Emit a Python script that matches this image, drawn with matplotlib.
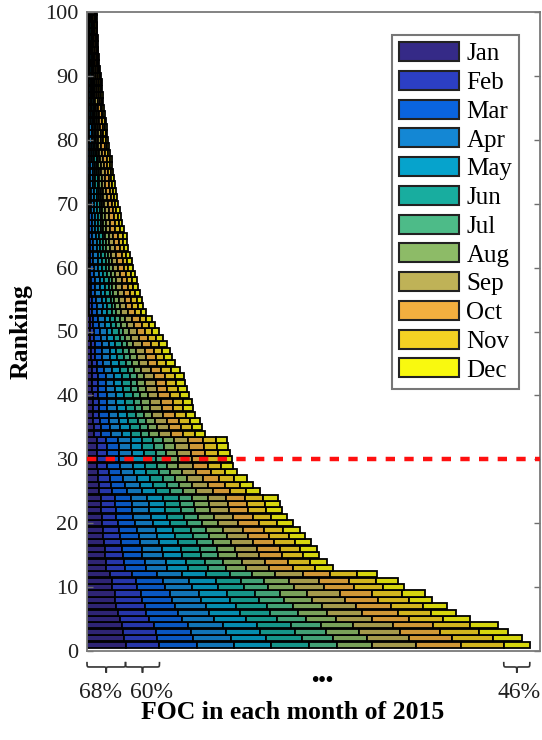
import numpy as np
import matplotlib
matplotlib.use("Agg")
import matplotlib.pyplot as plt
from matplotlib.colors import to_rgb
from matplotlib.patches import Patch, PathPatch
from matplotlib.path import Path
from matplotlib.transforms import blended_transform_factory

plt.rcParams['font.family'] = ['Liberation Serif', 'DejaVu Serif']

# FOC (%) per month for stations ranked 1..100
months = ['Jan', 'Feb', 'Mar', 'Apr', 'May', 'Jun',
          'Jul', 'Aug', 'Sep', 'Oct', 'Nov', 'Dec']

jan = [68, 66, 64, 62, 58, 55, 52, 50, 49, 45, 44, 40, 34, 33, 32, 31, 30, 29, 28, 27,
       26, 25, 25, 24, 22, 21, 20, 19, 18, 18, 18, 17, 17, 12, 12, 11, 11, 10, 10, 10,
       9, 9, 9, 8, 8, 7, 7, 7, 6, 6, 5, 5, 4, 4, 4, 3, 3, 3, 3, 3,
       2, 2, 2, 2, 2, 2, 2, 2, 1, 1, 1, 1, 1, 1, 1, 1, 1, 1, 1, 1,
       1, 1, 1, 1, 1, 1, 1, 1, 1, 1, 1, 1, 1, 1, 1, 1, 1, 1, 1, 1]
feb = [60, 58, 57, 56, 52, 50, 50, 48, 47, 44, 43, 40, 33, 33, 31, 31, 30, 29, 28, 27,
       26, 26, 25, 25, 22, 21, 20, 19, 18, 18, 18, 18, 17, 13, 12, 12, 11, 11, 11, 10,
       10, 10, 10, 9, 9, 8, 8, 8, 7, 7, 6, 6, 5, 5, 4, 4, 4, 4, 3, 3,
       3, 3, 3, 3, 2, 2, 2, 2, 2, 2, 2, 2, 2, 2, 1, 1, 1, 1, 1, 1,
       1, 1, 1, 1, 1, 1, 1, 1, 1, 1, 1, 1, 1, 1, 1, 1, 1, 1, 1, 1]
mar = [67, 64, 63, 60, 57, 55, 54, 52, 51, 48, 47, 44, 37, 36, 35, 35, 34, 33, 32, 31,
       30, 29, 29, 28, 26, 25, 24, 22, 22, 21, 21, 21, 21, 17, 17, 16, 16, 15, 15, 15,
       14, 14, 14, 13, 12, 12, 12, 11, 11, 10, 10, 9, 8, 9, 8, 8, 7, 7, 7, 6,
       6, 6, 5, 5, 5, 4, 4, 4, 4, 4, 4, 4, 3, 3, 3, 3, 3, 3, 3, 2,
       2, 2, 2, 2, 2, 2, 2, 2, 2, 2, 2, 1, 2, 1, 1, 1, 1, 1, 1, 1]
apr = [65, 66, 62, 62, 58, 56, 55, 52, 51, 48, 47, 44, 38, 37, 36, 35, 34, 33, 33, 32,
       31, 30, 30, 29, 27, 26, 25, 23, 23, 23, 22, 22, 22, 19, 18, 18, 17, 17, 16, 16,
       16, 15, 15, 15, 14, 14, 13, 13, 12, 12, 11, 11, 10, 10, 10, 9, 9, 9, 9, 8,
       8, 8, 7, 7, 7, 6, 6, 6, 6, 6, 6, 5, 5, 5, 5, 5, 4, 4, 4, 4,
       4, 4, 3, 3, 3, 3, 3, 3, 3, 2, 2, 2, 2, 2, 2, 2, 2, 2, 2, 2]
may = [65, 62, 60, 61, 55, 54, 53, 51, 50, 47, 46, 43, 36, 35, 34, 34, 33, 32, 31, 30,
       29, 28, 28, 28, 25, 24, 23, 22, 21, 21, 21, 20, 20, 17, 17, 16, 16, 15, 15, 15,
       14, 14, 14, 13, 13, 12, 12, 11, 11, 10, 10, 9, 9, 8, 8, 8, 8, 7, 7, 7,
       7, 6, 6, 6, 6, 5, 5, 5, 5, 5, 5, 5, 4, 4, 4, 4, 4, 3, 3, 3,
       3, 3, 3, 3, 2, 2, 2, 2, 2, 2, 2, 2, 2, 2, 2, 1, 1, 1, 1, 1]
jun = [67, 64, 62, 60, 56, 54, 53, 50, 49, 46, 45, 42, 36, 35, 34, 33, 33, 32, 31, 30,
       29, 28, 28, 28, 25, 24, 23, 22, 21, 21, 21, 20, 20, 17, 17, 17, 16, 16, 16, 15,
       15, 15, 14, 14, 13, 13, 12, 12, 11, 11, 10, 10, 9, 8, 8, 8, 8, 8, 7, 7,
       7, 7, 6, 6, 6, 5, 5, 5, 5, 5, 4, 4, 4, 4, 4, 4, 4, 4, 3, 3,
       3, 3, 3, 3, 3, 3, 2, 2, 2, 2, 2, 2, 2, 2, 2, 2, 2, 2, 1, 1]
jul = [49, 55, 54, 52, 50, 48, 47, 45, 44, 42, 41, 38, 32, 31, 30, 30, 29, 28, 27, 26,
       25, 25, 24, 24, 22, 21, 20, 19, 18, 18, 18, 18, 18, 15, 14, 14, 13, 13, 13, 12,
       12, 12, 12, 11, 10, 10, 10, 9, 9, 8, 8, 8, 7, 6, 6, 6, 6, 6, 6, 5,
       5, 5, 5, 4, 4, 4, 4, 3, 3, 3, 3, 3, 3, 3, 3, 2, 2, 2, 2, 2,
       2, 2, 2, 2, 2, 1, 1, 1, 1, 1, 1, 1, 1, 1, 1, 1, 1, 1, 1, 1]
aug = [62, 60, 58, 57, 53, 52, 51, 49, 48, 45, 44, 41, 35, 34, 33, 33, 32, 31, 30, 29,
       28, 27, 27, 27, 24, 23, 22, 21, 20, 20, 20, 20, 19, 17, 16, 16, 15, 15, 15, 14,
       14, 14, 13, 13, 12, 12, 12, 11, 11, 10, 10, 9, 8, 8, 8, 8, 7, 7, 7, 7,
       6, 6, 6, 6, 6, 5, 5, 5, 5, 4, 4, 4, 4, 4, 4, 4, 4, 3, 3, 3,
       3, 3, 3, 3, 2, 2, 2, 2, 2, 2, 2, 2, 1, 1, 1, 1, 1, 1, 1, 1]
sep = [78, 74, 72, 70, 64, 62, 60, 58, 57, 53, 52, 49, 41, 40, 39, 39, 38, 37, 36, 35,
       34, 33, 33, 33, 30, 29, 28, 26, 26, 25, 25, 25, 25, 21, 21, 21, 20, 20, 20, 19,
       19, 18, 18, 17, 16, 16, 16, 15, 14, 14, 13, 13, 12, 11, 11, 11, 10, 10, 10, 9,
       9, 9, 9, 8, 8, 8, 8, 7, 7, 7, 6, 6, 6, 6, 6, 6, 6, 5, 5, 5,
       5, 4, 4, 4, 4, 4, 4, 4, 3, 3, 3, 3, 3, 3, 2, 3, 2, 2, 2, 2]
oct_ = [80, 76, 72, 71, 66, 63, 62, 59, 58, 54, 53, 49, 42, 41, 40, 39, 38, 37, 37, 36,
        35, 34, 34, 33, 30, 29, 28, 26, 26, 26, 25, 25, 25, 22, 22, 21, 20, 20, 20, 20,
        19, 19, 19, 18, 17, 17, 16, 16, 15, 14, 14, 13, 12, 11, 11, 11, 11, 10, 10, 10,
        10, 9, 9, 9, 9, 9, 8, 8, 8, 7, 7, 7, 7, 6, 6, 6, 6, 6, 6, 5,
        5, 5, 5, 4, 4, 4, 4, 4, 4, 4, 3, 3, 3, 3, 3, 3, 3, 3, 3, 3]
nov = [75, 72, 68, 66, 60, 58, 56, 54, 53, 50, 49, 46, 39, 38, 37, 37, 36, 35, 34, 33,
       32, 31, 31, 31, 28, 27, 26, 24, 24, 24, 23, 23, 23, 20, 19, 20, 19, 18, 18, 18,
       18, 17, 17, 17, 16, 15, 15, 14, 14, 13, 12, 12, 11, 10, 10, 9, 9, 9, 8, 8,
       8, 8, 7, 8, 8, 8, 7, 7, 6, 6, 6, 5, 5, 5, 5, 5, 5, 5, 4, 4,
       4, 4, 4, 3, 3, 3, 3, 3, 3, 3, 2, 2, 2, 2, 2, 2, 2, 2, 2, 2]
dec = [46, 51, 51, 49, 47, 45, 43, 41, 40, 38, 39, 36, 31, 31, 29, 29, 29, 29, 29, 28,
       28, 28, 27, 27, 25, 23, 24, 22, 21, 21, 21, 20, 20, 18, 18, 18, 17, 17, 16, 16,
       17, 16, 16, 16, 15, 14, 14, 14, 13, 12, 11, 10, 9, 9, 9, 9, 8, 8, 8, 8,
       8, 7, 7, 7, 7, 7, 6, 6, 6, 5, 5, 5, 5, 5, 4, 4, 4, 4, 4, 4,
       3, 3, 3, 3, 3, 3, 3, 2, 2, 2, 2, 1, 1, 1, 1, 1, 1, 1, 1, 1]

monthly = [jan, feb, mar, apr, may, jun, jul, aug, sep, oct_, nov, dec]

month_colors = ['#352a87', '#2c3fc4', '#0a64df', '#1487d4', '#06a3cc', '#18ad9f',
                '#4dbb88', '#8dbb67', '#bfb257', '#f2af3f', '#f4d223', '#f9f90f']

ranking = np.arange(1, 101)
threshold_rank = 30

fig = plt.figure(figsize=(5.42, 7.40), dpi=100)
ax = fig.add_axes([87 / 542, 89 / 740, 453 / 542, 639 / 740])

left = np.zeros(len(ranking))
for vals, col in zip(monthly, month_colors):
    vals = np.asarray(vals, dtype=float)
    face = tuple(0.86 * c for c in to_rgb(col))
    ax.barh(ranking, vals, left=left, height=0.95, color=face,
            edgecolor='black', linewidth=1.3)
    left += vals

ax.axhline(threshold_rank, color='#ff1010', lw=3.2,
           linestyle=(0, (2.1, 2.1)), zorder=5)

ax.set_xlim(0, 800)
ax.set_ylim(0, 100)
ax.set_xticks([])
ax.set_yticks(np.arange(0, 101, 10))
ax.tick_params(axis='y', direction='in', right=True, length=4, width=1,
               color='#6e6e6e', labelsize=16, labelcolor='#202020', pad=6)
for sp in ax.spines.values():
    sp.set_color('#7a7a7a')
    sp.set_linewidth(1.3)

ax.set_ylabel('Ranking', fontsize=18.5, fontweight='bold')
ax.yaxis.set_label_coords(-0.12, 0.5)
ax.set_xlabel('FOC in each month of 2015', fontsize=18.5, fontweight='bold')
ax.xaxis.set_label_coords(0.455, -0.0955)
ax.xaxis.label.set_verticalalignment('center')

# legend
handles = [Patch(facecolor=c, edgecolor='#222222', linewidth=1.5) for c in month_colors]
leg = ax.legend(handles, months, loc='upper left', bbox_to_anchor=(0.673, 0.964),
                borderaxespad=0, fontsize=18, handlelength=2.4, handleheight=0.8,
                handletextpad=0.3, labelspacing=0.22, borderpad=0.28,
                fancybox=False, framealpha=1, edgecolor='#777777')
leg.get_frame().set_linewidth(1.5)

# braces under the bottom-ranked bar segments
trans = blended_transform_factory(ax.transData, ax.transAxes)


def brace(x0, x1, r=5.0, yt=-0.017, ym=-0.025, yb=-0.034):
    m = 0.5 * (x0 + x1)
    verts = [(x0, yt), (x0, ym), (x0, ym), (x0 + r, ym),
             (m - r, ym), (m, ym), (m, ym), (m, yb),
             (m, ym), (m, ym), (m + r, ym),
             (x1 - r, ym), (x1, ym), (x1, ym), (x1, yt)]
    codes = [Path.MOVETO, Path.CURVE4, Path.CURVE4, Path.CURVE4,
             Path.LINETO, Path.CURVE4, Path.CURVE4, Path.CURVE4,
             Path.CURVE4, Path.CURVE4, Path.CURVE4,
             Path.LINETO, Path.CURVE4, Path.CURVE4, Path.CURVE4]
    ax.add_patch(PathPatch(Path(verts, codes), transform=trans, fill=False,
                           edgecolor='#333333', lw=1.2, clip_on=False))
    return m


row1 = [m[0] for m in monthly]
total1 = sum(row1)
braces = [(0, row1[0], row1[0], -6),
          (row1[0], row1[0] + row1[1], row1[1], 9),
          (total1 - row1[-1], total1, row1[-1], 2)]
for x0, x1, v, dx in braces:
    xm = brace(x0, x1)
    ax.annotate(f'{v}%', xy=(xm, -0.065), xycoords=trans,
                xytext=(dx, 0), textcoords='offset pixels',
                ha='center', va='center', fontsize=17, color='#202020',
                annotation_clip=False)

ax.text(0.519, -0.047, '\u2022\u2022\u2022', transform=ax.transAxes,
        ha='center', va='center', fontsize=15, fontweight='bold', color='black')

fig.savefig('out.png', dpi=100)
